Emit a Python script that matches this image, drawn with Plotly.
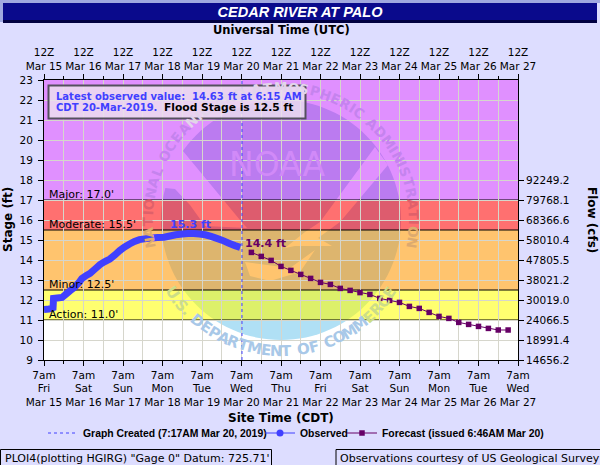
import math
import pandas as pd
import plotly.graph_objects as go

# ---- data ----
start = pd.Timestamp("2019-03-15 07:00")
obs_hours = [0, 3, 5.5, 5.8, 8, 11, 13.5, 16, 18.5, 21,
             23, 25.5, 28, 31, 34, 37, 40, 43, 46, 49,
             52, 55, 58, 62, 65.5, 69, 73, 76.5, 80, 84,
             87.5, 91, 94.5, 98, 101.5, 105, 108.5, 112, 116, 119.25]
obs_stage = [11.53, 11.55, 11.62, 12.08, 12.10, 12.13, 12.30, 12.47, 12.63, 12.85,
             13.07, 13.22, 13.33, 13.55, 13.77, 13.92, 14.05, 14.25, 14.47, 14.65,
             14.80, 14.93, 15.02, 15.07, 15.10, 15.12, 15.14, 15.20, 15.26, 15.30,
             15.32, 15.32, 15.30, 15.26, 15.18, 15.08, 14.98, 14.85, 14.72, 14.63]
fc_start = "2019-03-20 13:00"
fc_stage = [14.38, 14.18, 13.98, 13.68, 13.48, 13.28, 13.08, 12.88, 12.78, 12.58,
            12.48, 12.37, 12.28, 12.08, 11.98, 11.88, 11.68, 11.58, 11.38, 11.18,
            11.08, 10.88, 10.78, 10.68, 10.58, 10.50, 10.50]
created = "2019-03-20 07:17"
day_labels = ["Mar 15", "Mar 16", "Mar 17", "Mar 18", "Mar 19", "Mar 20", "Mar 21",
              "Mar 22", "Mar 23", "Mar 24", "Mar 25", "Mar 26", "Mar 27"]
weekdays = ["Fri", "Sat", "Sun", "Mon", "Tue", "Wed", "Thu", "Fri", "Sat", "Sun", "Mon", "Tue", "Wed"]
stage_ticks = list(range(9, 24))
flow_stage = [9, 10, 11, 12, 13, 14, 15, 16, 17, 18]
flow_labels = ["14656.2", "18991.4", "24066.5", "30019.0", "38021.2", "47805.5", "58010.4",
               "68366.6", "79768.1", "92249.2"]
levels = [("Major", 17.0), ("Moderate", 15.5), ("Minor", 12.5), ("Action", 11.0)]

# ---- styling ----
BG = "#DDDDFF"
BLUE = "#4040FF"
PURPLE = "#660066"
FONT = "DejaVu Sans"
GRID = "#D6D6CC"
L, R, T, B = 44, 518, 80, 360
bands = [(17, 23, "#E090FF", "#BB7BF0", "#C583EE"),
         (15.5, 17, "#FF7070", "#DD5C6E", "#E0606A"),
         (12.5, 15.5, "#FFC46E", "#DDB56E", "#DDAA6E"),
         (11, 12.5, "#FFFF70", "#DDF06A", "#CCDD88"),
         (9, 11, "#FFFFFF", "#B0E0F5", "#A8C8E8")]


def px(x):
    return (x - L) / (R - L)


def py(y):
    return (B - y) / (B - T)


def sy(v):
    return B - (v - 9) * (B - T) / 14


def clip(poly, top, bot):
    def cut(pts, inside, yb):
        out = []
        for i, p in enumerate(pts):
            q = pts[(i + 1) % len(pts)]
            if inside(p):
                out.append(p)
            if inside(p) != inside(q):
                t = (yb - p[1]) / (q[1] - p[1])
                out.append((p[0] + t * (q[0] - p[0]), yb))
        return out
    pts = cut(poly, lambda p: p[1] >= top, top)
    if pts:
        pts = cut(pts, lambda p: p[1] <= bot, bot)
    return pts


def path(pts):
    return "M" + "L".join(f"{px(x):.4f},{py(y):.4f}" for x, y in pts) + "Z"


CX, CY, RAD = 281, 220, 120
disc = [(CX + RAD * math.cos(a * math.pi / 60), CY + RAD * math.sin(a * math.pi / 60)) for a in range(120)]
light = [
    [(178, 145), (240, 220), (247, 228), (205, 226), (190, 205), (175, 189), (155, 187), (155, 150)],
    [(375, 147), (388, 165), (340, 222), (318, 238), (332, 246), (295, 246), (285, 248), (305, 232), (320, 222)],
    [(245, 262), (290, 268), (315, 250), (300, 272), (270, 281), (250, 276)],
]

shapes = []
for lo, hi, col, dark, _ in bands:
    shapes.append(dict(type="rect", xref="paper", yref="y", x0=0, x1=1, y0=lo, y1=hi,
                       fillcolor=col, line_width=0, layer="below"))
for lo, hi, col, dark, _ in bands:
    pts = clip(disc, sy(hi), sy(lo))
    if pts:
        shapes.append(dict(type="path", xref="paper", yref="paper", path=path(pts),
                           fillcolor=dark, line_width=0, layer="below"))
    for poly in light:
        pts = clip(poly, sy(hi), sy(lo))
        if pts:
            shapes.append(dict(type="path", xref="paper", yref="paper", path=path(pts),
                               fillcolor=col, line_width=0, layer="below"))
for name, v in levels:
    shapes.append(dict(type="line", xref="paper", yref="y", x0=0, x1=1, y0=v, y1=v,
                       line=dict(color="black", width=1.2), layer="between"))


def rect(x0, y0, x1, y1, fill, line=None, layer="above"):
    shapes.append(dict(type="rect", xref="paper", yref="paper", x0=px(x0), x1=px(x1), y0=py(y0), y1=py(y1),
                       fillcolor=fill, line=line or dict(width=0), layer=layer))


# header bar
rect(0, 0, 600, 3, "#A0A8E0")
rect(0, 3, 3, 22, "#A0A8E0")
rect(3, 20, 597, 23, "#000040")
rect(3, 3, 597, 20, "#0A0A8C")
# info box
rect(48.5, 85.5, 305.5, 118.5, "rgba(235,225,238,0.82)", dict(color="#55505F", width=2))
# footer boxes
rect(0.5, 449.5, 271.5, 470, BG, dict(color="black", width=1))
rect(336, 449.5, 605, 470, BG, dict(color="black", width=1))


def label(text, x, y, size=11, colour="black", anchor="center", angle=0, family=FONT):
    return dict(text=text, xref="paper", yref="paper", x=px(x), y=py(y), xanchor=anchor, yanchor="middle",
                showarrow=False, textangle=angle, font=dict(family=family, size=size, color=colour))


ann = []
for name, v in levels:
    ann.append(dict(text=f"{name}: {v:.1f}'", xref="paper", yref="y", x=px(47), y=v, xanchor="left",
                    yanchor="bottom", showarrow=False, yshift=-3, font=dict(family=FONT, size=11, color="black")))


def ring(text, a0, a1, upper, r, size):
    w = {" ": 0.55, "I": 0.5, ".": 0.5, "M": 1.25, "O": 1.1, "D": 1.1}
    widths = [w.get(c, 1.0) for c in text]
    total = sum(widths) - (widths[0] + widths[-1]) / 2
    pos = -widths[0] / 2
    for ch, wd in zip(text, widths):
        pos += wd / 2
        frac = pos / total
        pos += wd / 2
        if ch == " ":
            continue
        a = a0 + (a1 - a0) * frac
        if upper:
            x, y = CX + r * math.sin(math.radians(a)), CY - r * math.cos(math.radians(a))
        else:
            x, y = CX - r * math.sin(math.radians(a)), CY + r * math.cos(math.radians(a))
        colour = "#DDDDDD"
        for lo, hi, _, _, tx in bands:
            if sy(hi) <= y <= sy(lo):
                colour = tx
        if 78 <= y <= 122 and x <= 310:
            colour = "#E2D4EA"
        ann.append(label(f"<b>{ch}</b>", x, y, size, colour, angle=a))


ring("NATIONAL OCEANIC AND ATMOSPHERIC ADMINISTRATION", -100, 100, True, 133, 13.5)
ring("U.S. DEPARTMENT OF COMMERCE", 56, -56, False, 131, 15)
ann.append(label("NOAA", 277, 164, 33, "#D18AF8"))

ann.append(label("<b>Latest observed value:</b>", 54, 96, 10, BLUE, "left"))
ann.append(label("<b>14.63</b>", 190, 96, 10, BLUE, "left"))
ann.append(label("<b>ft at 6:15 AM</b>", 226, 96, 10, BLUE, "left"))
ann.append(label("<b>CDT 20-Mar-2019.</b>", 54, 107, 10, BLUE, "left"))
ann.append(label("<b>Flood Stage is 12.5 ft</b>", 162, 107, 10.7, "black", "left"))
ann.append(dict(text="<b>15.3 ft</b>", x="2019-03-19 00:00", y=15.32, yshift=9, showarrow=False,
                xref="x", yref="y", font=dict(family=FONT, size=11, color=BLUE)))
ann.append(dict(text="<b>14.4 ft</b>", x="2019-03-20 21:30", y=14.38, yshift=9, showarrow=False,
                xref="x", yref="y", font=dict(family=FONT, size=11, color=PURPLE)))
ann.append(label("PLOI4(plotting HGIRG) \"Gage 0\" Datum: 725.71'", 3, 458, 11, anchor="left"))
ann.append(label("Observations courtesy of US Geological Survey", 338, 458, 11, anchor="left"))
ann.append(label("<b>Universal Time (UTC)</b>", 281, 30, 11.5))
ann.append(label("<b>Site Time (CDT)</b>", 281, 418, 12))
ann.append(label("<b>Stage (ft)</b>", 8, 220, 12, angle=-90))
ann.append(label("<b>Flow (cfs)</b>", 592, 220, 12, angle=90))

days = pd.date_range(start, periods=13, freq="24h")
half_days = pd.date_range(start + pd.Timedelta(hours=12), periods=12, freq="24h")
obs_x = [start + pd.Timedelta(hours=h) for h in obs_hours]
fc_x = pd.date_range(fc_start, periods=len(fc_stage), freq="6h")
xr = [start, start + pd.Timedelta(days=12)]

fig = go.Figure()
fig.add_trace(go.Scatter(x=[created, created], y=[9, 23], mode="lines", name="<b>Graph Created (7:17AM Mar 20, 2019)</b>",
                         line=dict(color=BLUE, width=1, dash="3px,3px"), legend="legend"))
fig.add_trace(go.Scatter(x=obs_x, y=obs_stage, mode="lines", showlegend=False,
                         line=dict(color=BLUE, width=7, simplify=False)))
fig.add_trace(go.Scatter(x=[None], y=[None], mode="lines+markers", name="<b>Observed</b>",
                         line=dict(color=BLUE, width=1), marker=dict(symbol="circle", size=7, color=BLUE), legend="legend2"))
fig.add_trace(go.Scatter(x=fc_x, y=fc_stage, mode="lines+markers", name="<b>Forecast (issued 6:46AM Mar 20)</b>",
                         line=dict(color=PURPLE, width=1), marker=dict(symbol="square", size=5.5, color=PURPLE), legend="legend3"))
fig.add_trace(go.Scatter(x=[None], y=[None], xaxis="x2", yaxis="y2", showlegend=False, hoverinfo="skip"))


def legend_at(x):
    return dict(orientation="h", xref="container", yref="paper", x=x / 600, y=py(433),
                xanchor="left", yanchor="middle", bgcolor="rgba(0,0,0,0)",
                font=dict(family="Liberation Sans", size=10.4, color="black"),
                itemclick=False, itemdoubleclick=False)


tickfont = dict(family=FONT, size=10.5, color="black")
fig.update_layout(
    width=600, height=465, margin=dict(l=L, r=600 - R, t=T, b=465 - B, pad=0, autoexpand=False),
    paper_bgcolor=BG, plot_bgcolor="white", shapes=shapes, annotations=ann, showlegend=True,
    title=dict(text="<b><i>CEDAR RIVER AT PALO</i></b>", x=0.5, xanchor="center", y=1 - 12 / 465, yanchor="middle",
               automargin=False, font=dict(family="Liberation Sans", size=14.5, color="white")),
    legend=legend_at(43), legend2=legend_at(260), legend3=legend_at(342),
    xaxis=dict(type="date", range=xr, tickmode="array", tickvals=list(days), automargin=False,
               ticktext=[f"7am<br>{w}<br>{d}" for w, d in zip(weekdays, day_labels)], tickangle=0,
               ticks="outside", ticklen=5, tickcolor="black", tickfont=tickfont,
               showline=True, linecolor="black", linewidth=1, showgrid=True, gridcolor=GRID, gridwidth=1,
               minor=dict(tickmode="array", tickvals=list(half_days), ticks="outside", ticklen=3, tickcolor="black",
                          showgrid=True, gridcolor=GRID, gridwidth=1)),
    xaxis2=dict(type="date", range=xr, overlaying="x", side="top", anchor="y2", tickmode="array", tickvals=list(days),
                automargin=False, ticktext=[f"12Z<br>{d}" for d in day_labels], tickangle=0,
                ticks="outside", ticklen=5, tickcolor="black", tickfont=tickfont,
                showline=True, linecolor="black", linewidth=1, showgrid=False,
                minor=dict(tickmode="array", tickvals=list(half_days), ticks="outside", ticklen=3, tickcolor="black",
                           showgrid=False)),
    yaxis=dict(range=[9, 23], tickmode="array", tickvals=stage_ticks, ticks="outside", ticklen=5, tickcolor="black",
               automargin=False, tickfont=tickfont, ticklabelstandoff=3, showline=True, linecolor="black", linewidth=1,
               showgrid=True, gridcolor=GRID, gridwidth=1, zeroline=False),
    yaxis2=dict(range=[9, 23], overlaying="y", side="right", anchor="x2", tickmode="array", tickvals=flow_stage,
                automargin=False, ticktext=flow_labels, ticks="outside", ticklen=5, tickcolor="black", tickfont=tickfont,
                showline=True, linecolor="black", linewidth=1, showgrid=False, zeroline=False),
)
fig.write_html("out.html", post_script="document.body.style.margin='0';", config=dict(displayModeBar=False))
